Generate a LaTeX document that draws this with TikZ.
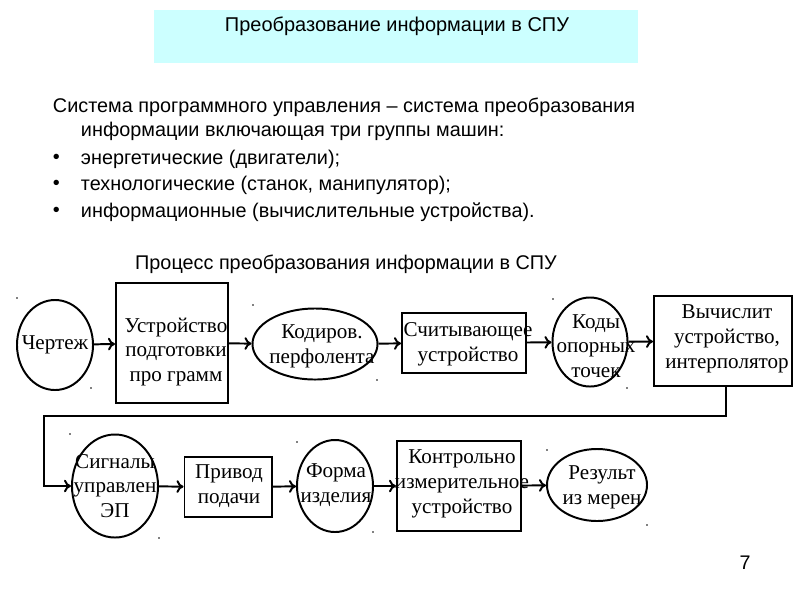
\documentclass[tikz,border=0pt]{standalone}
\usepackage{fontspec}
\setmainfont{Liberation Serif}
\newfontfamily\headfont{Liberation Sans}
\usetikzlibrary{shapes.geometric}
\usetikzlibrary{arrows.meta}
\definecolor{headcyan}{HTML}{CCFFFF}

\begin{document}
\begin{tikzpicture}[%
        x = 0.025cm,
        y = -0.025cm,
        line width = 1.4pt,
        oval/.style = {ellipse, draw, inner sep = 0pt},
        blok/.style = {rectangle, draw, inner sep = 0pt},
        txt/.style = {align = center, inner sep = 0pt, font = \fontsize{15}{17.6}\selectfont},
        flow/.style = {-{To[length=5pt,width=9pt]}},
        ]

\useasboundingbox (0,0) rectangle (800,600);

% header
\fill[headcyan] (154,10) rectangle (638,63);
\node (title) [font = \headfont\fontsize{14.2}{17}\selectfont] at (397,26) {Преобразование информации в СПУ};

\begin{scope}[font = \headfont\fontsize{14.1}{17}\selectfont]
    \node (intro) [anchor = west, inner sep = 0pt] at (52,107) {Система программного управления – система преобразования};
    \node (introb) [anchor = west, inner sep = 0pt] at (80,131) {информации включающая три группы машин:};
    \foreach \YPOS/\NAME in {159/{энергетические (двигатели);},185/{технологические (станок, манипулятор);},212/{информационные (вычислительные устройства).}}{%
        \node [anchor = west, inner sep = 0pt] at (52,\YPOS) {•};
        \node [anchor = west, inner sep = 0pt] at (80,\YPOS) {\NAME};
        }
    \node (proc) [inner sep = 0pt] at (346,264) {Процесс преобразования информации в СПУ};
\end{scope}

% upper row
\node (chertezh) [oval, minimum width = 1.9cm, minimum height = 2.25cm] at (55,345) {};
\node (podgot) [blok, minimum width = 2.8cm, minimum height = 3cm] at (172,343) {};
\node (kodir) [oval, minimum width = 3.125cm, minimum height = 1.775cm] at (315,344) {};
\node (schit) [blok, minimum width = 3.1cm, minimum height = 1.5cm] at (464,343) {};
\node (kody) [oval, minimum width = 1.875cm, minimum height = 2.225cm] at (590,342) {};
\node (vychisl) [blok, minimum width = 3.45cm, minimum height = 2.25cm] at (723,341) {};

% lower row
\node (signal) [oval, minimum width = 2.15cm, minimum height = 2.575cm] at (115,486) {};
\node (privod) [blok, minimum width = 2.175cm, minimum height = 1.5cm] at (228,487) {};
\node (forma) [oval, minimum width = 1.9cm, minimum height = 2.3cm] at (335,486) {};
\node (kontrol) [blok, minimum width = 3.1cm, minimum height = 2.25cm] at (459,486) {};
\node (rezult) [oval, minimum width = 2.5cm, minimum height = 1.8cm] at (597,485) {};

\node [txt] at (55,345) {Чертеж};
\node [txt] at (176,352) {Устройство\\подготовки\\про грамм};
\node [txt] at (322,346) {Кодиров.\\перфолента};
\node [txt] at (468,344) {Считывающее\\устройство};
\node [txt] at (596,346) {Коды\\опорных\\точек};
\node [txt] at (727,339) {Вычислит\\устройство,\\интерполятор};
\node [txt] at (115,486) {Сигналы\\управлен\\ЭП};
\node [txt] at (229,486) {Привод\\подачи};
\node [txt] at (336,485) {Форма\\изделия};
\node [txt] at (462,484) {Контрольно\\измерительное\\устройство};
\node [txt] at (602,487) {Результ\\из мерен};

\coordinate (turnA) at (726,416);
\coordinate (turnB) at (44,416);

\draw[flow] (chertezh) -- (podgot);
\draw[flow] (podgot) -- (kodir);
\draw[flow] (kodir) -- (schit);
\draw[flow] (schit) -- (kody);
\draw[flow] (kody) -- (vychisl);
\draw[flow] (vychisl.south -| turnA) -- (turnA) -- (turnB) |- (signal.west);
\draw[flow] (signal) -- (privod);
\draw[flow] (privod) -- (forma);
\draw[flow] (forma) -- (kontrol);
\draw[flow] (kontrol) -- (rezult);

% stray marks
\foreach \XPOS/\YPOS in {17/298,91/388,253/305,377/380,553/299,627/388,70/434,159/538,297/442,373/532,547/450,647/525}{%
    \fill (\XPOS,\YPOS) circle (0.8);
    }

\node (page) [font = \headfont\fontsize{14}{17}\selectfont] at (745,563) {7};

\end{tikzpicture}
\end{document}
